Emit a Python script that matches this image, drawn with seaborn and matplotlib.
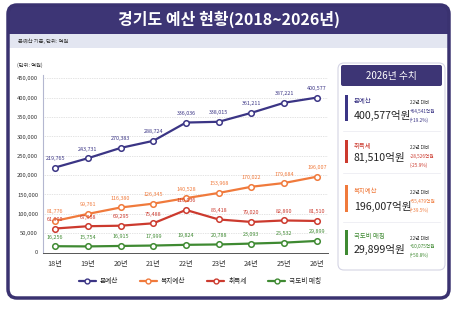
import numpy as np
import pandas as pd
import seaborn as sns
import matplotlib.pyplot as plt
from matplotlib.patches import FancyBboxPatch, Rectangle
from matplotlib.transforms import Affine2D
from matplotlib.lines import Line2D

years = ['18년', '19년', '20년', '21년', '22년', '23년', '24년', '25년', '26년']
main_budget = [219765, 243731, 270383, 288724, 336036, 338015, 361211, 387221, 400577]
welfare = [81776, 99761, 116380, 126345, 140528, 153968, 170022, 179684, 196007]
acq_tax = [61990, 67958, 69295, 75488, 110036, 85418, 79020, 82890, 81510]
matching = [16256, 15754, 16915, 17999, 19824, 20788, 23093, 25532, 29899]

series_names = ['본예산', '복지예산', '취득세', '국도비 매칭']
colors = ['#3b3585', '#f07a3c', '#cc3a2e', '#3f8a32']

# right panel values
panel_names = ['본예산', '취득세', '복지예산', '국도비 매칭']
panel_colors = ['#3b3585', '#cc3a2e', '#f07a3c', '#3f8a32']
panel_values = ['400,577억원', '81,510억원', '196,007억원', '29,899억원']
panel_diffs = ['+64,541억원', '-28,526억원', '+55,479억원', '+10,075억원']
panel_pcts = ['(+19.2%)', '(-25.9%)', '(+39.5%)', '(+50.8%)']

df = pd.DataFrame({'x': list(range(len(years))) * 4,
                   'value': main_budget + welfare + acq_tax + matching,
                   'series': sum([[s] * len(years) for s in series_names], [])})

sns.set_style('white')
plt.rcParams['font.family'] = ['Noto Sans CJK KR', 'DejaVu Sans']

W, H = 459, 313
fig = plt.figure(figsize=(W / 100, H / 100), dpi=100)
# pixel coordinates, origin top-left
px = Affine2D().scale(1 / W, -1 / H).translate(0, 1) + fig.transFigure


def box(x0, y0, x1, y1, r, fc, ec='none', lw=0, z=0):
    p = FancyBboxPatch((x0, y0), x1 - x0, y1 - y0, boxstyle='round,pad=0,rounding_size=%g' % r,
                       fc=fc, ec=ec, lw=lw, transform=px, zorder=z)
    fig.add_artist(p)


def rect(x0, y0, x1, y1, fc, z=1):
    fig.add_artist(Rectangle((x0, y0), x1 - x0, y1 - y0, fc=fc, ec='none', transform=px, zorder=z))


def txt(x, y, s, **kw):
    fig.text(x / W, 1 - y / H, s, **kw)


# outer frame
box(8, 5, 449, 298, 9, '#ffffff', 'none', 0, z=0)
box(8, 5, 449, 40, 9, '#3d3575', z=0.5)
rect(9, 34, 448, 48, '#e3e6f1', z=0.6)
box(8, 5, 449, 298, 9, 'none', '#3a3270', 2.5, z=0.7)
txt(229, 19, '경기도 예산 현황(2018~2026년)', color='white', fontsize=11.5, fontweight='bold',
    ha='center', va='center', zorder=2)
txt(18, 41.5, '본예산 기준, 단위: 억원', color='#333333', fontsize=3.8, va='center', zorder=2)
txt(17, 65, '(단위: 억원)', color='#333333', fontsize=3.8, va='center')

ax = fig.add_axes([43 / W, 1 - 252.5 / H, (328 - 43) / W, (252.5 - 75) / H])
ax.set_facecolor('none')
sns.lineplot(data=df, x='x', y='value', hue='series', palette=colors, marker='o',
             markersize=4, markerfacecolor='white', markeredgewidth=1.1, linewidth=1.6,
             legend=False, ax=ax)
for line, c in zip(ax.lines, colors):
    line.set_markeredgecolor(c)

for vals, c in zip([main_budget, welfare, acq_tax, matching], colors):
    for i, v in enumerate(vals):
        ax.annotate(f'{v:,}', (i, v), xytext=(0, 9), textcoords='offset pixels',
                    ha='center', va='center', fontsize=3.9, color=c)

ax.set_xlim(-0.37, 8.34)
ax.set_ylim(0, 459000)
ax.set_yticks(range(0, 450001, 50000))
ax.set_yticklabels([f'{v:,}' for v in range(0, 450001, 50000)])
ax.set_xticks(range(len(years)))
ax.set_xticklabels(years)
ax.tick_params(axis='y', labelsize=4.2, labelcolor='#333333', length=2, width=0.6,
               color='#9a9cb8', pad=1.5)
ax.tick_params(axis='x', labelsize=5.2, labelcolor='#333333', length=2.5, width=0.6,
               color='#555555', pad=3)
ax.set_xlabel('')
ax.set_ylabel('')
ax.grid(axis='y', linestyle=(0, (1, 1.5)), color='#c8c8c8', linewidth=0.5)
ax.set_axisbelow(True)
for s in ['top', 'right']:
    ax.spines[s].set_visible(False)
ax.spines['left'].set_color('#b4b7d0')
ax.spines['left'].set_linewidth(0.8)
ax.spines['bottom'].set_color('#555555')
ax.spines['bottom'].set_linewidth(0.7)

handles = [Line2D([], [], color=c, marker='o', markersize=3.5, markerfacecolor='white',
                  markeredgecolor=c, markeredgewidth=1, linewidth=1.6) for c in colors]
fig.legend(handles, series_names, loc='center', bbox_to_anchor=(200 / W, 1 - 281 / H), ncol=4,
           frameon=False, fontsize=4.8, handlelength=2.6, columnspacing=3.2, handletextpad=0.6)

# right panel
box(338, 63, 445, 270, 6, '#ffffff', '#d4d4e4', 0.8, z=1)
box(341, 65, 442, 86, 2, '#3d3575', z=1.5)
txt(391.5, 75.5, '2026년 수치', color='white', fontsize=7, ha='center', va='center', zorder=2)

bar_y = [(95, 121), (140, 163), (185, 212), (230, 255)]
for k in range(4):
    y0, y1 = bar_y[k]
    c = panel_colors[k]
    rect(345, y0, 348, y1, c, z=2)
    txt(354, y0 + 6, panel_names[k], color=c, fontsize=4.6, va='center', zorder=2)
    txt(354, y1 - 6, panel_values[k], color='#222222', fontsize=7.6, va='center', zorder=2)
    txt(410, y0 + 8, '22년 대비', color='#333333', fontsize=3.4, va='center', zorder=2)
    txt(410, y0 + 16.5, panel_diffs[k], color=c, fontsize=3.4, va='center', zorder=2)
    txt(410, y0 + 25, panel_pcts[k], color=c, fontsize=3.4, va='center', zorder=2)
    if k < 3:
        fig.add_artist(Line2D([343, 440], [bar_y[k][1] + 10] * 2, color='#ececf2', lw=0.6,
                              transform=px, zorder=2))

fig.savefig('out.png', dpi=100)
